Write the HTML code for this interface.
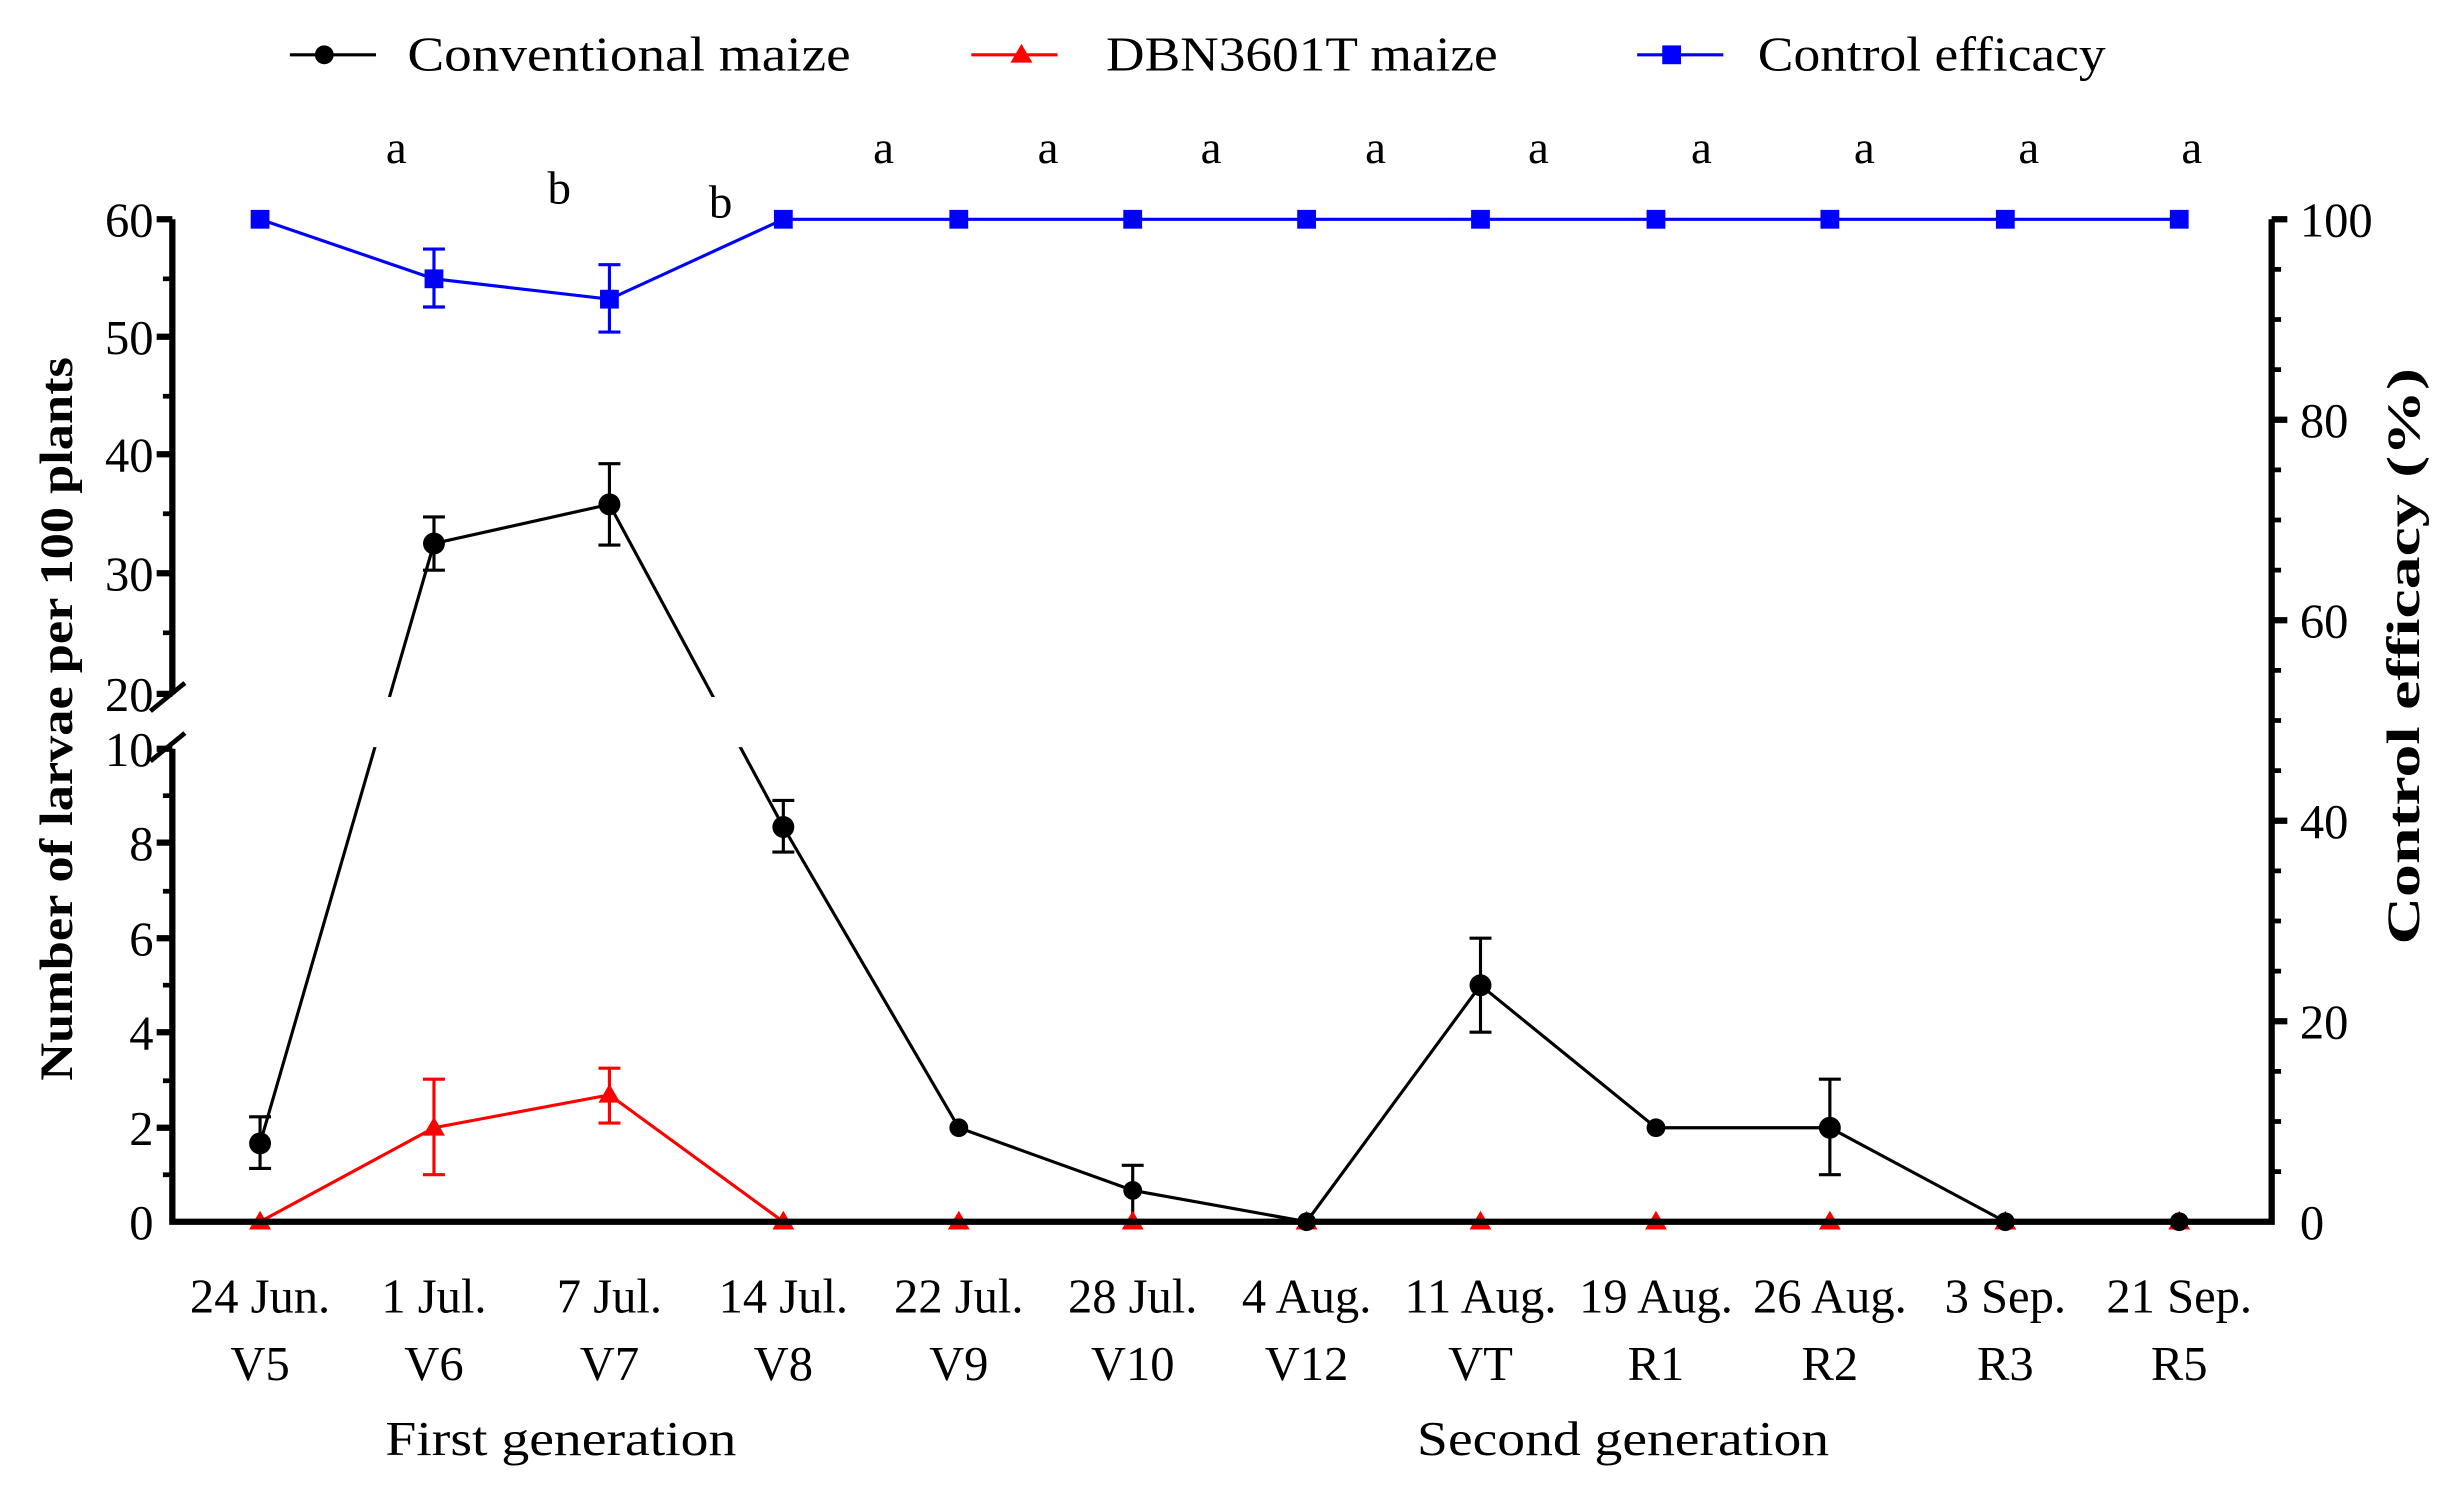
<!DOCTYPE html>
<html><head><meta charset="utf-8"><style>html,body{margin:0;padding:0;background:#fff}svg{display:block}text{font-family:"Liberation Serif",serif;fill:#000}</style></head>
<body>
<svg width="2444" height="1488" viewBox="0 0 1560 950" preserveAspectRatio="none" xmlns="http://www.w3.org/2000/svg">
<!-- legend -->
<g font-size="31">
<line x1="185" y1="35" x2="240" y2="35" stroke="#000" stroke-width="2"/><circle cx="207" cy="35" r="6" fill="#000"/>
<text x="260" y="45" textLength="283" lengthAdjust="spacingAndGlyphs">Conventional maize</text>
<line x1="620" y1="35" x2="675" y2="35" stroke="red" stroke-width="2"/><polygon points="652,28 659,40 645,40" fill="red"/>
<text x="706" y="45" textLength="250" lengthAdjust="spacingAndGlyphs">DBN3601T maize</text>
<line x1="1045" y1="35" x2="1100" y2="35" stroke="blue" stroke-width="2"/><rect x="1061" y="29" width="12" height="12" fill="blue"/>
<text x="1122" y="45" textLength="222" lengthAdjust="spacingAndGlyphs">Control efficacy</text>
</g>
<!-- significance letters -->
<g font-size="30" text-anchor="middle">
<text x="253" y="104">a</text><text x="357" y="130">b</text><text x="460" y="139">b</text>
<text x="564" y="104">a</text><text x="669" y="104">a</text><text x="773" y="104">a</text><text x="878" y="104">a</text><text x="982" y="104">a</text><text x="1086" y="104">a</text><text x="1190" y="104">a</text><text x="1295" y="104">a</text><text x="1399" y="104">a</text>
</g>
<!-- blue series -->
<g stroke="blue" stroke-width="2" fill="none">
<polyline points="166,140 277,178 389,191 500,140 612,140 723,140 834,140 945,140 1057,140 1168,140 1280,140 1391,140"/>
<line x1="277" y1="159" x2="277" y2="196"/><line x1="270" y1="159" x2="284" y2="159"/><line x1="270" y1="196" x2="284" y2="196"/>
<line x1="389" y1="169" x2="389" y2="212"/><line x1="382" y1="169" x2="396" y2="169"/><line x1="382" y1="212" x2="396" y2="212"/>
</g>
<g fill="blue">
<rect x="160" y="134" width="12" height="12"/><rect x="271" y="172" width="12" height="12"/><rect x="383" y="185" width="12" height="12"/><rect x="494" y="134" width="12" height="12"/><rect x="606" y="134" width="12" height="12"/><rect x="717" y="134" width="12" height="12"/><rect x="828" y="134" width="12" height="12"/><rect x="939" y="134" width="12" height="12"/><rect x="1051" y="134" width="12" height="12"/><rect x="1162" y="134" width="12" height="12"/><rect x="1274" y="134" width="12" height="12"/><rect x="1385" y="134" width="12" height="12"/>
</g>
<!-- black series -->
<g stroke="#000" stroke-width="2" fill="none">
<polyline points="166,730 277,347 389,322 500,528 612,720 723,760 834,780 945,629 1057,720 1168,720 1280,780 1391,780"/>
<path d="M166,713V746M159,713H173M159,746H173 M277,330V364M270,330H284M270,364H284 M389,296V348M382,296H396M382,348H396 M500,511V544M493,511H507M493,544H507 M723,744V777M716,744H730 M945,599V659M938,599H952M938,659H952 M1168,689V750M1161,689H1175M1161,750H1175"/>
</g>
<rect x="114" y="445" width="1330" height="32" fill="#fff"/>
<!-- red series -->
<g stroke="red" stroke-width="2" fill="none">
<polyline points="166,780 277,720 389,699 500,780 1391,780"/>
<path d="M277,689V750M270,689H284M270,750H284 M389,682V717M382,682H396M382,717H396"/>
</g>
<g fill="red">
<polygon points="166,773 173,785 159,785"/><polygon points="277,713 284,725 270,725"/><polygon points="389,692 396,704 382,704"/><polygon points="500,773 507,785 493,785"/><polygon points="612,773 619,785 605,785"/><polygon points="723,773 730,785 716,785"/><polygon points="834,773 841,785 827,785"/><polygon points="945,773 952,785 938,785"/><polygon points="1057,773 1064,785 1050,785"/><polygon points="1168,773 1175,785 1161,785"/><polygon points="1280,773 1287,785 1273,785"/><polygon points="1391,773 1398,785 1384,785"/>
</g>
<g fill="#000">
<circle cx="166" cy="730" r="7"/><circle cx="277" cy="347" r="7"/><circle cx="389" cy="322" r="7"/><circle cx="500" cy="528" r="7"/><circle cx="612" cy="720" r="6"/><circle cx="723" cy="760" r="6"/><circle cx="834" cy="780" r="6"/><circle cx="945" cy="629" r="7"/><circle cx="1057" cy="720" r="6"/><circle cx="1168" cy="720" r="7"/><circle cx="1280" cy="780" r="6"/><circle cx="1391" cy="780" r="6"/>
</g>
<!-- axes -->
<g stroke="#000" stroke-width="4" fill="none">
<path d="M110,140V443 M110,478V782 M108,780H1452 M1450,140V782"/>
<path d="M100,140H110 M100,215H110 M100,290H110 M100,366H110 M100,443H110 M100,478H110 M100,538H110 M100,599H110 M100,659H110 M100,720H110"/>
<path d="M1450,140H1460 M1450,268H1460 M1450,396H1460 M1450,524H1460 M1450,652H1460"/>
</g>
<g stroke="#000" stroke-width="3">
<path d="M104,178H110 M104,253H110 M104,328H110 M104,404H110 M104,508H110 M104,569H110 M104,629H110 M104,690H110 M104,750H110"/>
<path d="M1450,172H1456 M1450,204H1456 M1450,236H1456 M1450,300H1456 M1450,332H1456 M1450,364H1456 M1450,428H1456 M1450,460H1456 M1450,492H1456 M1450,556H1456 M1450,588H1456 M1450,620H1456 M1450,684H1456 M1450,716H1456 M1450,748H1456"/>
<path d="M96,454L118,436 M96,486L118,468" stroke-width="3"/>
</g>
<!-- tick labels -->
<g font-size="31" text-anchor="end">
<text x="98" y="151">60</text><text x="98" y="226">50</text><text x="98" y="301">40</text><text x="98" y="377">30</text><text x="98" y="454">20</text><text x="98" y="489">10</text><text x="98" y="549">8</text><text x="98" y="610">6</text><text x="98" y="670">4</text><text x="98" y="731">2</text><text x="98" y="791">0</text>
</g>
<g font-size="31">
<text x="1468" y="151">100</text><text x="1468" y="279">80</text><text x="1468" y="407">60</text><text x="1468" y="535">40</text><text x="1468" y="663">20</text><text x="1468" y="791">0</text>
</g>
<g font-size="31" text-anchor="middle">
<text x="166" y="838">24 Jun.</text><text x="277" y="838">1 Jul.</text><text x="389" y="838">7 Jul.</text><text x="500" y="838">14 Jul.</text><text x="612" y="838">22 Jul.</text><text x="723" y="838">28 Jul.</text><text x="834" y="838">4 Aug.</text><text x="945" y="838">11 Aug.</text><text x="1057" y="838">19 Aug.</text><text x="1168" y="838">26 Aug.</text><text x="1280" y="838">3 Sep.</text><text x="1391" y="838">21 Sep.</text>
<text x="166" y="881">V5</text><text x="277" y="881">V6</text><text x="389" y="881">V7</text><text x="500" y="881">V8</text><text x="612" y="881">V9</text><text x="723" y="881">V10</text><text x="834" y="881">V12</text><text x="945" y="881">VT</text><text x="1057" y="881">R1</text><text x="1168" y="881">R2</text><text x="1280" y="881">R3</text><text x="1391" y="881">R5</text>
<text x="358" y="929" textLength="224" lengthAdjust="spacingAndGlyphs">First generation</text><text x="1036" y="929" textLength="263" lengthAdjust="spacingAndGlyphs">Second generation</text>
</g>
<text transform="translate(46,459) rotate(-90)" font-size="30" font-weight="bold" text-anchor="middle" textLength="462" lengthAdjust="spacingAndGlyphs">Number of larvae per 100 plants</text>
<text transform="translate(1544,419) rotate(-90)" font-size="30" font-weight="bold" text-anchor="middle" textLength="368" lengthAdjust="spacingAndGlyphs">Control efficacy  (%)</text>
</svg>
</body></html>
